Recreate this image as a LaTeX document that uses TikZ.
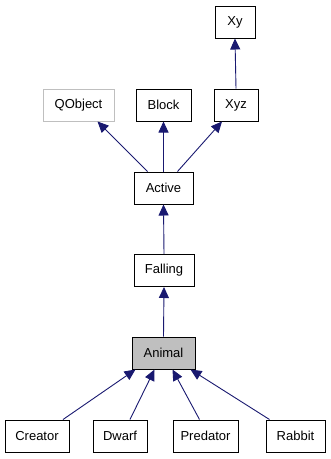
\documentclass[tikz,border=0pt]{standalone}
\usepackage{fontspec}
\setmainfont{Liberation Sans}
\usetikzlibrary{arrows.meta}
\definecolor{edgeblue}{HTML}{191970}
\definecolor{boxgray}{HTML}{BFBFBF}
\begin{document}
\begin{tikzpicture}[x=1pt,y=-1pt,
  cls/.style={draw=black,line width=1pt,fill=white,minimum height=32pt,inner sep=0pt,font=\fontsize{13}{15}\selectfont},
  ext/.style={cls,draw=boxgray},
  cur/.style={cls,fill=boxgray},
  inh/.style={draw=edgeblue,line width=0.9pt,-{Triangle[length=11pt,width=10pt]}}]
\useasboundingbox (0,0) rectangle (331,459);
% classes: (centre x, centre y), width
\node[cls,minimum width=40pt] (xy) at (235,22) {Xy};
\node[ext,minimum width=71pt] (qobject) at (78.5,105) {QObject};
\node[cls,minimum width=55pt] (block) at (163.5,105) {Block};
\node[cls,minimum width=44pt] (xyz) at (236,105) {Xyz};
\node[cls,minimum width=59pt] (active) at (163.5,188) {Active};
\node[cls,minimum width=60pt] (falling) at (164,270.5) {Falling};
\node[cur,minimum width=63pt] (animal) at (163.5,353) {Animal};
\node[cls,minimum width=64pt] (creator) at (37,436) {Creator};
\node[cls,minimum width=54pt] (dwarf) at (120,436) {Dwarf};
\node[cls,minimum width=65pt] (predator) at (205.5,436) {Predator};
\node[cls,minimum width=59pt] (rabbit) at (295.5,436) {Rabbit};
% inheritance edges, child to parent
\draw[inh] (xyz.north) -- (xy.south);
\draw[inh] ([xshift=-16pt]active.north) -- ([xshift=19pt]qobject.south);
\draw[inh] (active.north) -- (block.south);
\draw[inh] ([xshift=14pt]active.north) -- ([xshift=-14pt]xyz.south);
\draw[inh] (falling.north) -- (active.south);
\draw[inh] (animal.north) -- (falling.south);
\draw[inh] ([xshift=26pt]creator.north) -- ([xshift=-28pt]animal.south);
\draw[inh] ([xshift=10pt]dwarf.north) -- ([xshift=-9pt]animal.south);
\draw[inh] ([xshift=-6pt]predator.north) -- ([xshift=9pt]animal.south);
\draw[inh] ([xshift=-26pt]rabbit.north) -- ([xshift=27pt]animal.south);
\end{tikzpicture}
\end{document}
